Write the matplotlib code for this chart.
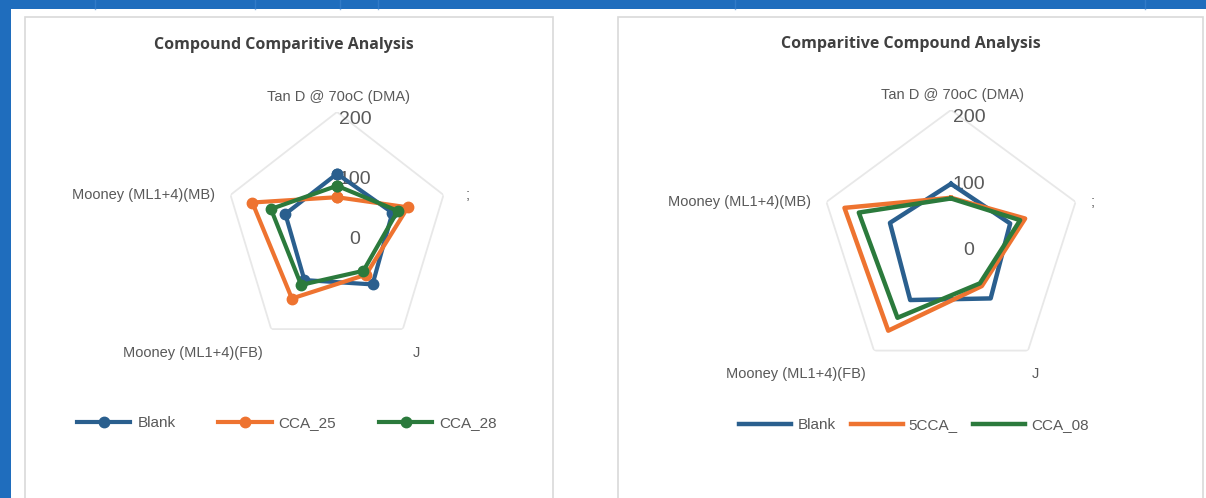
import numpy as np
import matplotlib
matplotlib.use('Agg')
import matplotlib.pyplot as plt
from matplotlib.patches import Rectangle

# categories (as shown on the chart, clockwise from top)
categories = ['Tan D @ 70oC (DMA)', ';', 'J', 'Mooney (ML1+4)(FB)', 'Mooney (ML1+4)(MB)']

# left chart
left_title = 'Compound Comparitive Analysis'
left_names = ['Blank', 'CCA_25', 'CCA_28']
left_blank = [97, 104, 108, 99, 97]
left_cca25 = [58, 133, 88, 137, 159]
left_cca28 = [77, 114, 80, 109, 124]

# right chart
right_title = 'Comparitive Compound Analysis'
right_names = ['Blank', '5CCA_', 'CCA_08']
right_blank = [89, 95, 103, 106, 98]
right_cca = [68, 119, 80, 163, 171]
right_cca08 = [67, 111, 75, 139, 148]

radial_ticks = [0, 100, 200]
colors = ['#2a5f8e', '#ee7330', '#2b7a3c']

W, H = 1206, 498
fig = plt.figure(figsize=(W / 100, H / 100), dpi=100)
fig.patch.set_facecolor('white')

# blue backdrop strips (top and left)
bg = '#1f6dbd'
fig.add_artist(Rectangle((0, 1 - 9 / H), 1, 9 / H, transform=fig.transFigure,
                         facecolor=bg, edgecolor='none', zorder=-10))
fig.add_artist(Rectangle((0, 0), 11 / W, 1, transform=fig.transFigure,
                         facecolor=bg, edgecolor='none', zorder=-10))
for xl in [95, 255, 340, 378, 735, 1145]:
    fig.add_artist(plt.Line2D([xl / W, xl / W], [1 - 9 / H, 1], transform=fig.transFigure,
                              color='#3f86cf', lw=1, alpha=0.6, zorder=-9))

# chart panels
for x0, x1 in [(25, 553), (618, 1203)]:
    fig.add_artist(Rectangle((x0 / W, -0.01), (x1 - x0) / W, 1 - 17 / H + 0.01,
                             transform=fig.transFigure, facecolor='white',
                             edgecolor='#d9d9d9', lw=1.2, zorder=-8))


def radar(cx, cy, rx, ry, title, tcx, tcy, names, series, markers, legend_y,
          legend_kw, right_dx):
    ax = fig.add_axes([(cx - rx) / W, (H - cy - ry) / H, 2 * rx / W, 2 * ry / H],
                      projection='polar')
    ax.set_aspect('auto')
    ax.set_theta_offset(np.pi / 2)
    ax.set_theta_direction(-1)
    ax.set_ylim(0, 200)
    ax.set_facecolor('none')
    ax.grid(False)
    ax.spines['polar'].set_visible(False)
    ax.set_xticks([])
    ax.set_yticks([])

    n = len(categories)
    ang = np.linspace(0, 2 * np.pi, n, endpoint=False)
    angc = np.append(ang, ang[0])

    # outer pentagon grid
    ax.plot(angc, [200] * (n + 1), color='#e8e8e8', lw=1.3, zorder=1)

    for vals, name, c in zip(series, names, colors):
        v = np.append(vals, vals[0])
        if markers:
            ax.plot(angc, v, color=c, lw=3, marker='o', ms=7.5, label=name, zorder=3)
        else:
            ax.plot(angc, v, color=c, lw=3.2, label=name, zorder=3)

    # radial tick labels (under the series, as in the original)
    for t in radial_ticks:
        ax.annotate(str(t), xy=(0, t), xytext=(13, -5.5), textcoords='offset points',
                    ha='center', va='center', fontsize=14, color='#595959',
                    family='Liberation Sans', zorder=2)

    # category labels
    offs = [(1, 11), (11 + right_dx, 0), (5 + right_dx, -17), (-6, -17), (-11, 0)]
    has = ['center', 'left', 'center', 'right', 'right']
    for a, lab, (dx, dy), ha in zip(ang, categories, offs, has):
        ax.annotate(lab, xy=(a, 200), xytext=(dx, dy), textcoords='offset points',
                    ha=ha, va='center', fontsize=10.5, color='#595959',
                    family='Liberation Sans', annotation_clip=False)

    fig.text(tcx / W, 1 - tcy / H, title, ha='center', va='center', fontsize=11.5,
             fontweight='bold', color='#404040', family='Open Sans')

    ax.legend(loc='center', bbox_to_anchor=(legend_kw['x'] / W, 1 - legend_y / H),
              bbox_transform=fig.transFigure, ncol=3, frameon=False,
              prop={'family': 'Liberation Sans', 'size': 11}, labelcolor='#595959',
              handlelength=legend_kw['hl'], handletextpad=legend_kw['htp'],
              columnspacing=legend_kw['cs'])
    return ax


radar(337, 232, 112, 120, left_title, 284, 45, left_names,
      [left_blank, left_cca25, left_cca28], True, 423,
      {'x': 287, 'hl': 3.5, 'htp': 0.45, 'cs': 2.8}, 5)
radar(951, 243, 131, 133, right_title, 911, 44, right_names,
      [right_blank, right_cca, right_cca08], False, 425,
      {'x': 914, 'hl': 3.4, 'htp': 0.4, 'cs': 1.0}, 0)

fig.savefig('out.png', dpi=100)
